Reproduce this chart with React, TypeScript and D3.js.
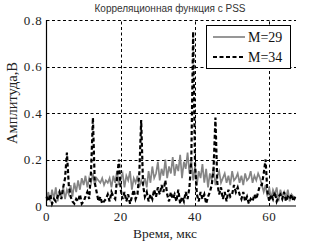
import React, { useEffect, useRef } from "react";
import * as d3 from "d3";

// time step of the samples, mks
const timeStep = 0.5;

const xTicks = [0, 20, 40, 60];
const yTicks = [0, 0.2, 0.4, 0.6, 0.8];
const yTickLabels = ["0", "0.2", "0.4", "0.6", "0.8"];

const seriesNames = ["M=29", "M=34"];

// M=29, gray solid
const corrM29 = [
  0.03, 0.06, 0.02, 0.07, 0.03, 0.08, 0.02, 0.06, 0.04, 0.08, 0.03,
  0.07, 0.05, 0.09, 0.04, 0.10, 0.06,
  0.11, 0.07, 0.12, 0.09, 0.13, 0.08, 0.12, 0.10, 0.14, 0.09, 0.12, 0.11, 0.10, 0.12, 0.09, 0.11, 0.10, 0.12,
  0.08, 0.13, 0.10, 0.15, 0.09, 0.12, 0.14, 0.08, 0.13, 0.11, 0.15, 0.07, 0.12, 0.10, 0.13, 0.08, 0.11, 0.09,
  0.12, 0.08, 0.15, 0.10, 0.17, 0.12, 0.14, 0.19, 0.11, 0.16, 0.13, 0.20, 0.12, 0.17, 0.14, 0.21, 0.13, 0.18,
  0.15, 0.22, 0.12, 0.19, 0.16, 0.23, 0.14, 0.20,
  0.11, 0.17, 0.09, 0.15, 0.12, 0.18, 0.10, 0.16, 0.08, 0.14, 0.11, 0.17, 0.09, 0.13, 0.15, 0.10, 0.12, 0.14,
  0.10, 0.13, 0.09, 0.15, 0.11, 0.12, 0.14, 0.10, 0.13, 0.09, 0.14, 0.11, 0.12, 0.15, 0.10, 0.13, 0.11, 0.14,
  0.12, 0.09,
  0.06, 0.09, 0.04, 0.08, 0.03, 0.07, 0.05, 0.08, 0.02, 0.07, 0.04, 0.06, 0.03, 0.07, 0.02, 0.05, 0.04, 0.03,
];

// M=34, black dashed
const corrM34 = [
  0.04, 0.02, 0.05, 0.01, 0.03, 0.02, 0.04, 0.06, 0.03,
  0.08, 0.12, 0.23, 0.09, 0.04,
  0.02, 0.01, 0.03, 0.02, 0.05, 0.01, 0.02, 0.04, 0.06, 0.03,
  0.15, 0.38, 0.10, 0.06, 0.02,
  0.04, 0.01, 0.02, 0.03, 0.05, 0.02, 0.06, 0.04, 0.03,
  0.12, 0.20, 0.07, 0.03,
  0.06, 0.02, 0.05, 0.01, 0.04, 0.07, 0.03, 0.05,
  0.14, 0.37, 0.09, 0.04,
  0.06, 0.02, 0.05, 0.03, 0.07, 0.04, 0.08, 0.05,
  0.09, 0.06, 0.11, 0.05,
  0.02, 0.06, 0.03, 0.05, 0.02, 0.07, 0.01, 0.04, 0.02, 0.06, 0.03, 0.08,
  0.20, 0.75, 0.18, 0.05,
  0.02, 0.06, 0.03, 0.05, 0.01, 0.04, 0.06, 0.09,
  0.16, 0.38, 0.10, 0.05,
  0.08, 0.03, 0.06, 0.02, 0.07, 0.04, 0.05, 0.09, 0.06,
  0.08, 0.05,
  0.03, 0.06, 0.02, 0.04, 0.01, 0.03, 0.02, 0.05, 0.03, 0.06, 0.09,
  0.09, 0.14, 0.20, 0.06,
  0.02, 0.05, 0.03, 0.06, 0.02, 0.04, 0.05, 0.03, 0.06, 0.02, 0.04, 0.03, 0.05, 0.02, 0.04,
];

const W = 327;
const H = 245;
const margin = { left: 46.5, right: 31, top: 20, bottom: 39 };
const serif = "'Liberation Serif', 'Times New Roman', serif";

export default function App() {
  const svgRef = useRef<SVGSVGElement>(null);

  useEffect(() => {
    const svg = d3.select(svgRef.current);
    svg.selectAll("*").remove();

    const x = d3.scaleLinear().domain([0, 67.2]).range([margin.left, W - margin.right]);
    const y = d3.scaleLinear().domain([0, 0.8]).range([H - margin.bottom, margin.top]);

    // grid
    const grid = svg.append("g").attr("stroke", "#000").attr("stroke-width", 1).attr("stroke-dasharray", "3,2.5");
    yTicks.filter((v) => v > 0).forEach((v) => {
      grid.append("line")
        .attr("x1", x(0)).attr("x2", x(67.2))
        .attr("y1", Math.round(y(v)) + 0.5).attr("y2", Math.round(y(v)) + 0.5);
    });
    xTicks.filter((v) => v > 0).forEach((v) => {
      grid.append("line")
        .attr("x1", Math.round(x(v)) + 0.5).attr("x2", Math.round(x(v)) + 0.5)
        .attr("y1", y(0)).attr("y2", y(0.8));
    });

    const line = d3.line<number>()
      .x((_, i) => x(i * timeStep))
      .y((d) => y(d));

    svg.append("path").datum(corrM29)
      .attr("fill", "none").attr("stroke", "#858585").attr("stroke-width", 1.7)
      .attr("d", line);

    svg.append("path").datum(corrM34)
      .attr("fill", "none").attr("stroke", "#000").attr("stroke-width", 2.2)
      .attr("stroke-dasharray", "4,2.5")
      .attr("d", line);

    // axes (left + bottom only)
    svg.append("line").attr("stroke", "#000").attr("stroke-width", 1.2)
      .attr("x1", x(0)).attr("x2", x(0)).attr("y1", y(0)).attr("y2", y(0.8));
    svg.append("line").attr("stroke", "#000").attr("stroke-width", 1.2)
      .attr("x1", x(0)).attr("x2", x(67.2)).attr("y1", y(0)).attr("y2", y(0));

    // tick labels
    svg.append("g").selectAll("text").data(yTicks).join("text")
      .attr("x", x(0) - 4).attr("y", (d) => y(d) + 4.5)
      .attr("text-anchor", "end").attr("font-family", serif).attr("font-size", 13)
      .attr("letter-spacing", 0.8).attr("fill", "#222")
      .text((_, i) => yTickLabels[i]);

    svg.append("g").selectAll("text").data(xTicks).join("text")
      .attr("x", (d) => x(d)).attr("y", 221)
      .attr("text-anchor", "middle").attr("font-family", serif).attr("font-size", 13)
      .attr("letter-spacing", 0.5).attr("fill", "#222")
      .text((d) => String(d));

    // titles
    svg.append("text").attr("x", 170).attr("y", 11.5).attr("text-anchor", "middle")
      .attr("font-family", "'Liberation Sans', Arial, sans-serif").attr("font-size", 10)
      .attr("fill", "#333").text("Корреляционная функция с PSS");

    svg.append("text").attr("x", 165).attr("y", 238).attr("text-anchor", "middle")
      .attr("font-family", serif).attr("font-size", 13.5).attr("fill", "#222")
      .text("Время, мкс");

    svg.append("text").attr("transform", "translate(17,103) rotate(-90)").attr("text-anchor", "middle")
      .attr("font-family", serif).attr("font-size", 14.5).attr("fill", "#222")
      .text("Амплитуда,В");

    // legend
    const lg = svg.append("g");
    lg.append("rect").attr("x", 206.5).attr("y", 25.5).attr("width", 84).attr("height", 43)
      .attr("fill", "#fff").attr("stroke", "#000").attr("stroke-width", 1);
    const legendStyles = [
      { stroke: "#858585", width: 1.7, dash: null },
      { stroke: "#000", width: 2.2, dash: "4,2.5" },
    ];
    seriesNames.forEach((name, i) => {
      const ly = 37 + i * 20;
      lg.append("line").attr("x1", 213).attr("x2", 245).attr("y1", ly).attr("y2", ly)
        .attr("stroke", legendStyles[i].stroke).attr("stroke-width", legendStyles[i].width)
        .attr("stroke-dasharray", legendStyles[i].dash);
      lg.append("text").attr("x", 248).attr("y", ly + 4.8)
        .attr("font-family", serif).attr("font-size", 14).attr("fill", "#111")
        .text(name);
    });
  }, []);

  return (
    <div style={{ position: "absolute", left: 0, top: 0 }}>
      <svg ref={svgRef} width={W} height={H} style={{ display: "block", background: "#fff" }} />
    </div>
  );
}
